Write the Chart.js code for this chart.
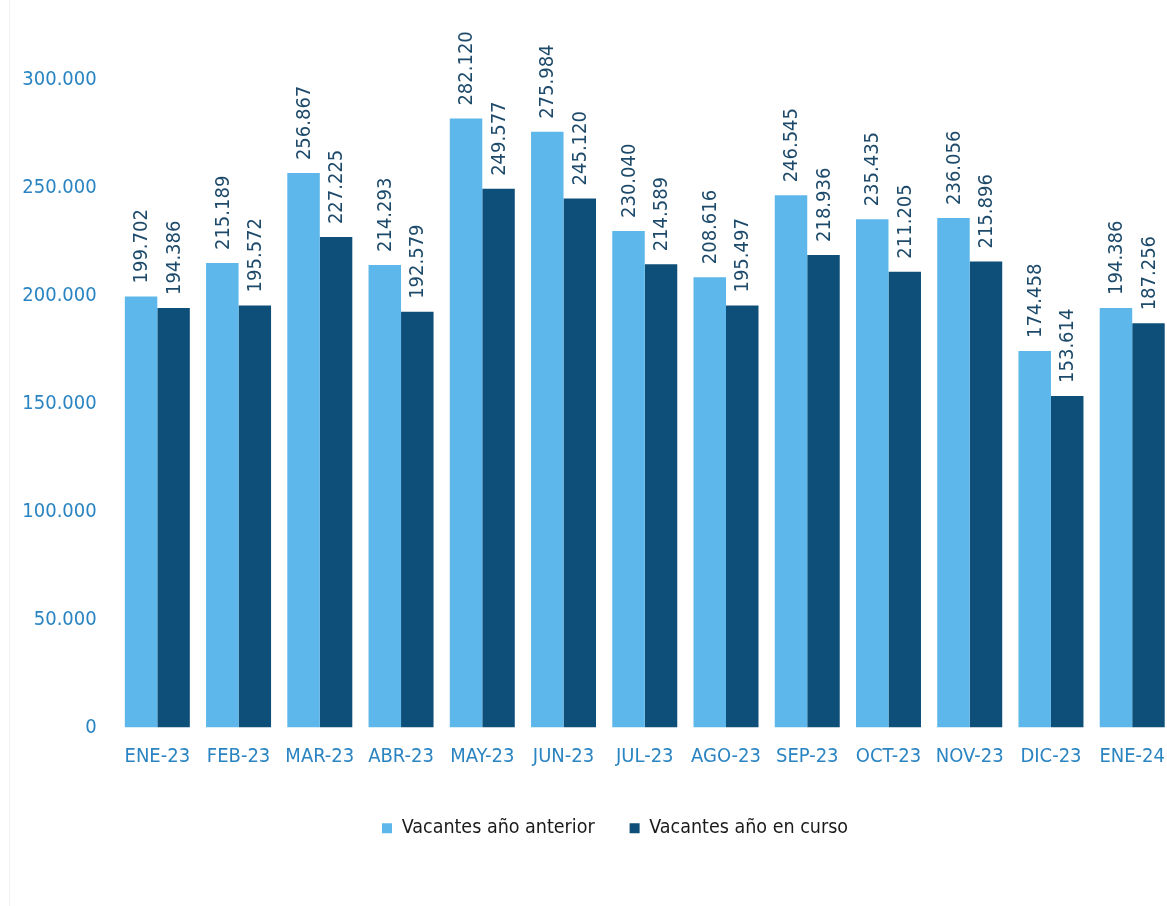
<!DOCTYPE html>
<html>
<head>
<meta charset="utf-8">
<script src="https://cdn.jsdelivr.net/npm/chart.js@4.4.1/dist/chart.umd.min.js"></script>
<style>
  html, body { margin: 0; padding: 0; background: #fff; overflow: hidden; }
  #wrap { position: relative; width: 1182px; height: 906px; }
  #edge { position: absolute; left: 9px; top: 0; width: 1px; height: 906px; background: #f0f0f0; }
  canvas { position: absolute; left: 0; top: 0; }
</style>
</head>
<body>
<div id="wrap">
  <div id="edge"></div>
  <canvas id="myChart" width="1182" height="906"></canvas>
</div>
<script>
var labels = ["ENE-23", "FEB-23", "MAR-23", "ABR-23", "MAY-23", "JUN-23", "JUL-23", "AGO-23", "SEP-23", "OCT-23", "NOV-23", "DIC-23", "ENE-24"];
var vacantesAnterior = [199702, 215189, 256867, 214293, 282120, 275984, 230040, 208616, 246545, 235435, 236056, 174458, 194386];
var vacantesCurso = [194386, 195572, 227225, 192579, 249577, 245120, 214589, 195497, 218936, 211205, 215896, 153614, 187256];

var fontFamily = "'DejaVu Sans Condensed', 'DejaVu Sans', sans-serif";

function miles(v) {
  return String(v).replace(/\B(?=(\d{3})+(?!\d))/g, ".");
}

var etiquetas = {
  id: "etiquetas",
  afterLayout: function(chart) {
    // the legend sits a little right of centre in the original
    chart.legend.left += 48;
  },
  afterDatasetsDraw: function(chart) {
    var c = chart.ctx;
    chart.data.datasets.forEach(function(ds, i) {
      var meta = chart.getDatasetMeta(i);
      meta.data.forEach(function(bar, j) {
        c.save();
        c.translate(bar.x, bar.y - 13);
        c.rotate(-Math.PI / 2);
        c.font = "20px " + fontFamily;
        c.fillStyle = "#1d4a6a";
        c.textAlign = "left";
        c.textBaseline = "middle";
        c.fillText(miles(ds.data[j]), 0, 1);
        c.restore();
      });
    });
  }
};

var ctx = document.getElementById("myChart");
new Chart(ctx, {
  type: "bar",
  data: {
    labels: labels,
    datasets: [{
      label: "Vacantes año anterior",
      data: vacantesAnterior,
      backgroundColor: "#5db7ea"
    }, {
      label: "Vacantes año en curso",
      data: vacantesCurso,
      backgroundColor: "#0d4f78"
    }]
  },
  options: {
    responsive: false,
    devicePixelRatio: 1,
    animation: false,
    layout: {
      padding: { top: 80, left: 0, right: 0, bottom: 58 }
    },
    datasets: {
      bar: { categoryPercentage: 0.80, barPercentage: 1 }
    },
    plugins: {
      legend: {
        display: true,
        position: "bottom",
        labels: {
          boxWidth: 10,
          boxHeight: 10,
          padding: 35,
          color: "#1a1a1a",
          font: { family: fontFamily, size: 19.5 }
        }
      },
      tooltip: { enabled: false }
    },
    scales: {
      x: {
        grid: { display: false, drawTicks: false },
        border: { display: false },
        ticks: {
          color: "#2a84c2",
          padding: 17,
          maxRotation: 0,
          font: { family: fontFamily, size: 20 }
        },
        afterFit: function(scale) { scale.height = 56; }
      },
      y: {
        min: 0,
        max: 300000,
        grid: { display: false, drawTicks: false },
        border: { display: false },
        ticks: {
          stepSize: 50000,
          color: "#2a84c2",
          padding: 20,
          font: { family: fontFamily, size: 20 },
          callback: function(v) { return miles(v); }
        },
        afterFit: function(scale) { scale.width = 116.7; }
      }
    }
  },
  plugins: [etiquetas]
});
</script>
</body>
</html>
